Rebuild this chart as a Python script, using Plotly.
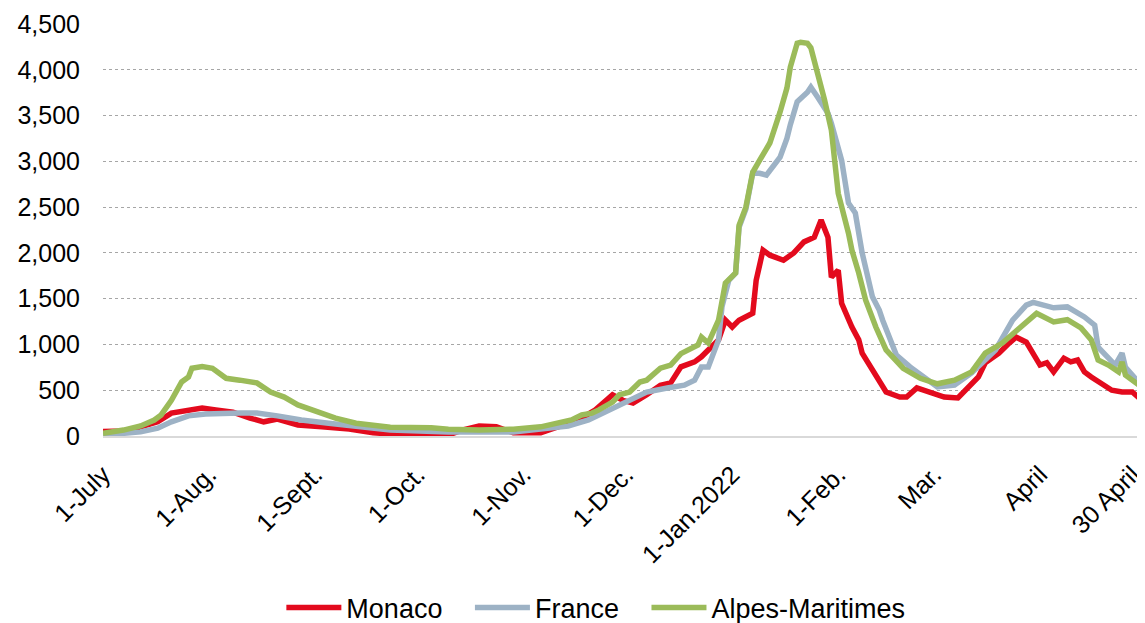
import plotly.graph_objects as go

# ---------------- data ----------------
monaco_dates = [
    "2021-07-01", "2021-07-07", "2021-07-12", "2021-07-17", "2021-07-21", "2021-07-26", "2021-07-30",
    "2021-08-03", "2021-08-08", "2021-08-13", "2021-08-17", "2021-08-21", "2021-08-27",
    "2021-09-03", "2021-09-11", "2021-09-18", "2021-09-23", "2021-09-30",
    "2021-10-10", "2021-10-14", "2021-10-19", "2021-10-24", "2021-10-29",
    "2021-11-06", "2021-11-11", "2021-11-17", "2021-11-22", "2021-11-27", "2021-11-30",
    "2021-12-03", "2021-12-07", "2021-12-11", "2021-12-14", "2021-12-17", "2021-12-21", "2021-12-23",
    "2021-12-25", "2021-12-28", "2021-12-30",
    "2022-01-01", "2022-01-03", "2022-01-05", "2022-01-07", "2022-01-08", "2022-01-10", "2022-01-12",
    "2022-01-16", "2022-01-19", "2022-01-22", "2022-01-25", "2022-01-27", "2022-01-29", "2022-01-30",
    "2022-02-01", "2022-02-02", "2022-02-05", "2022-02-07", "2022-02-08", "2022-02-12", "2022-02-15",
    "2022-02-19", "2022-02-21", "2022-02-24", "2022-02-28",
    "2022-03-04", "2022-03-08", "2022-03-11", "2022-03-14", "2022-03-16", "2022-03-20", "2022-03-23",
    "2022-03-25", "2022-03-28", "2022-03-30",
    "2022-04-01", "2022-04-03", "2022-04-05", "2022-04-08", "2022-04-10", "2022-04-12", "2022-04-14",
    "2022-04-16", "2022-04-19", "2022-04-22", "2022-04-25", "2022-04-28", "2022-04-30",
]
monaco_values = [
    50, 55, 100, 155, 250, 285, 305,
    285, 260, 195, 155, 185, 120,
    100, 75, 35, 20, 5,
    10, 65, 110, 100, 35,
    35, 100, 175, 285, 450, 390,
    360, 450, 555, 580, 755, 810, 865,
    940, 1050, 1265,
    1190, 1265, 1300, 1340, 1700, 2030, 1975,
    1920, 2000, 2120, 2170, 2360, 2170, 1735,
    1810, 1450, 1190, 1050, 905, 665, 480,
    425, 425, 525, 480,
    425, 415, 535, 645, 800, 905, 1015,
    1080, 1025, 905,
    775, 800, 700, 850, 810, 830, 700,
    645, 580, 500, 480, 480, 415,
]

france_dates = [
    "2021-07-01", "2021-07-12", "2021-07-17", "2021-07-21", "2021-07-26", "2021-07-31",
    "2021-08-10", "2021-08-15", "2021-08-21", "2021-08-28",
    "2021-09-05", "2021-09-13", "2021-09-23",
    "2021-10-10", "2021-10-29",
    "2021-11-08", "2021-11-14", "2021-11-20", "2021-11-25",
    "2021-12-01", "2021-12-07", "2021-12-13", "2021-12-18", "2021-12-21", "2021-12-23", "2021-12-25",
    "2021-12-28", "2021-12-29", "2021-12-31",
    "2022-01-02", "2022-01-03", "2022-01-05", "2022-01-07", "2022-01-09", "2022-01-11", "2022-01-15",
    "2022-01-17", "2022-01-18", "2022-01-20", "2022-01-23", "2022-01-24", "2022-01-26", "2022-01-29",
    "2022-01-30",
    "2022-02-02", "2022-02-04", "2022-02-06", "2022-02-08", "2022-02-11", "2022-02-13", "2022-02-14",
    "2022-02-18", "2022-02-22",
    "2022-03-02", "2022-03-07", "2022-03-12", "2022-03-19", "2022-03-24", "2022-03-28", "2022-03-30",
    "2022-04-05", "2022-04-09", "2022-04-14", "2022-04-17", "2022-04-18", "2022-04-23", "2022-04-25",
    "2022-04-26", "2022-04-30",
]
france_values = [
    10, 45, 85, 155, 220, 240,
    250, 250, 220, 175,
    140, 100, 65,
    45, 45,
    85, 110, 175, 260,
    370, 480, 525, 555, 610, 755, 755,
    1050, 1410, 1700,
    1780, 2280, 2480, 2870, 2870, 2850, 3045,
    3250, 3400, 3650, 3755, 3810, 3700, 3525,
    3415,
    3010, 2545, 2435, 2000, 1520, 1375, 1265,
    885, 755,
    535, 555, 690, 940, 1265, 1430, 1460,
    1400, 1410, 1300, 1210, 970, 775, 905,
    750, 580,
]

alpes_dates = [
    "2021-07-01", "2021-07-07", "2021-07-12", "2021-07-16", "2021-07-18", "2021-07-21", "2021-07-24",
    "2021-07-26", "2021-07-27", "2021-07-30",
    "2021-08-02", "2021-08-06", "2021-08-10", "2021-08-15", "2021-08-19", "2021-08-23", "2021-08-27",
    "2021-09-02", "2021-09-07", "2021-09-13", "2021-09-18", "2021-09-23",
    "2021-10-05", "2021-10-10", "2021-10-19", "2021-10-29",
    "2021-11-06", "2021-11-11", "2021-11-15", "2021-11-18", "2021-11-21", "2021-11-23", "2021-11-27",
    "2021-11-29",
    "2021-12-02", "2021-12-05", "2021-12-07", "2021-12-11", "2021-12-14", "2021-12-17", "2021-12-22",
    "2021-12-23", "2021-12-25", "2021-12-28", "2021-12-30",
    "2022-01-02", "2022-01-03", "2022-01-05", "2022-01-07", "2022-01-09", "2022-01-12", "2022-01-15",
    "2022-01-17", "2022-01-18", "2022-01-19", "2022-01-20", "2022-01-21", "2022-01-23", "2022-01-24",
    "2022-01-26", "2022-01-28", "2022-01-30", "2022-01-31",
    "2022-02-01", "2022-02-04", "2022-02-05", "2022-02-07", "2022-02-09", "2022-02-12", "2022-02-15",
    "2022-02-20", "2022-02-25",
    "2022-03-02", "2022-03-07", "2022-03-12", "2022-03-16", "2022-03-21", "2022-03-26", "2022-03-31",
    "2022-04-05", "2022-04-09", "2022-04-13", "2022-04-16", "2022-04-18", "2022-04-21", "2022-04-24",
    "2022-04-25", "2022-04-26", "2022-04-30",
]
alpes_values = [
    30, 65, 110, 175, 230, 390, 590,
    645, 740, 760,
    740, 630, 610, 580, 480, 425, 340,
    260, 195, 140, 110, 95,
    90, 75, 65, 75,
    100, 140, 175, 230, 250, 285, 370,
    450,
    480, 590, 610, 740, 775, 900, 995,
    1080, 1015, 1265, 1670,
    1780, 2300, 2500, 2880, 3010, 3200, 3540,
    3800, 4030, 4140, 4290, 4300, 4290, 4240,
    3960, 3670, 3340, 3010,
    2650, 2215, 2030, 1780, 1485, 1190, 940,
    740, 630,
    570, 610, 700, 906, 1015, 1180, 1340,
    1245, 1270, 1180, 1050, 830, 775, 700,
    810, 665, 555,
]

series_names = ["Monaco", "France", "Alpes-Maritimes"]

tick_dates = ["2021-07-01", "2021-08-01", "2021-09-01", "2021-10-01", "2021-11-01", "2021-12-01",
              "2022-01-01", "2022-02-01", "2022-03-01", "2022-04-01", "2022-04-28"]
tick_labels = ["1-July", "1-Aug.", "1-Sept.", "1-Oct.", "1-Nov.", "1-Dec.",
               "1-Jan.2022", "1-Feb.", "Mar.", "April", "30 April"]

y_ticks = [0, 500, 1000, 1500, 2000, 2500, 3000, 3500, 4000, 4500]

# ---------------- figure ----------------
FONT = "Liberation Sans, Arial, sans-serif"
PAD = "\u00a0\u00a0\u00a0"  # extra spacing between legend entries

fig = go.Figure()
fig.add_trace(go.Scatter(x=monaco_dates, y=monaco_values, name=series_names[0] + PAD, mode="lines",
                         line=dict(color="#E30A1D", width=5.5)))
fig.add_trace(go.Scatter(x=france_dates, y=france_values, name=series_names[1] + PAD, mode="lines",
                         line=dict(color="#9DB2C5", width=5.5)))
fig.add_trace(go.Scatter(x=alpes_dates, y=alpes_values, name=series_names[2], mode="lines",
                         line=dict(color="#9BBB59", width=5.5)))

fig.update_layout(
    width=1145, height=650,
    margin=dict(l=95, r=13, t=16, b=222),
    paper_bgcolor="white", plot_bgcolor="white",
    font=dict(family=FONT, size=25, color="#000000"),
    showlegend=True,
    legend=dict(orientation="h", x=0.172, xanchor="left", y=-0.4175, yanchor="middle",
                font=dict(family=FONT, size=27, color="#000000"), itemwidth=55,
                bgcolor="rgba(0,0,0,0)"),
    xaxis=dict(type="date", range=["2021-07-01", "2022-04-30 06:00"],
               tickmode="array", tickvals=tick_dates, ticktext=tick_labels,
               tickangle=-45, showgrid=False, zeroline=False, automargin=False,
               showline=True, linecolor="#D9D9D9", linewidth=2,
               ticks="", ticklabelstandoff=12,
               tickfont=dict(family=FONT, size=25)),
    yaxis=dict(range=[0, 4500], tickmode="array", tickvals=y_ticks, automargin=False,
               tickformat=",d", showgrid=True, gridcolor="#A6A6A6", gridwidth=1,
               griddash="dot", zeroline=False, showline=False, ticks="",
               ticklabelstandoff=22, tickfont=dict(family=FONT, size=25)),
)

fig.write_html("out.html")
